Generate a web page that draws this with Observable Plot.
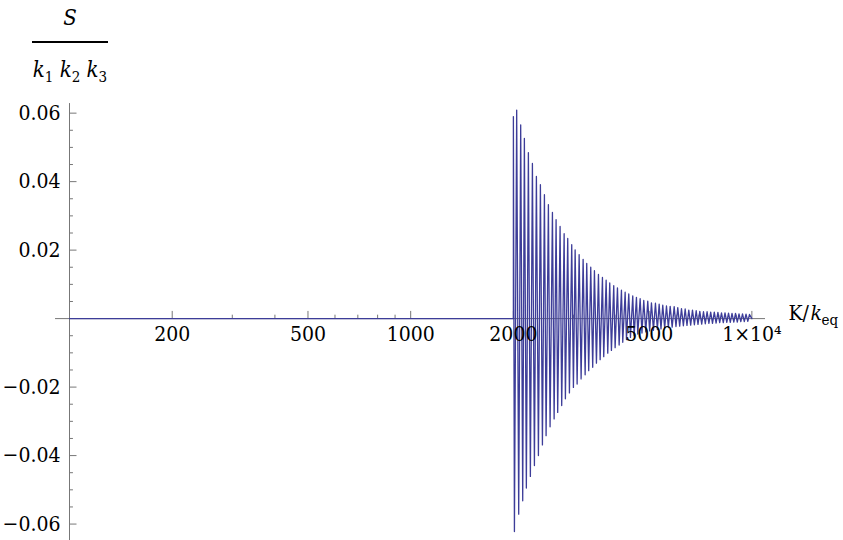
<!DOCTYPE html>
<html><head><meta charset="utf-8">
<script src="https://cdn.jsdelivr.net/npm/d3@7"></script>
<script src="https://cdn.jsdelivr.net/npm/@observablehq/plot@0.6"></script>
<style>
body{margin:0;background:#fff;}
#wrap{position:relative;width:843px;height:540px;overflow:hidden;font-family:'DejaVu Serif Condensed','DejaVu Serif',serif;font-stretch:condensed;color:#000;}
#num{position:absolute;left:32px;top:3px;width:76px;text-align:center;font-size:22px;font-style:italic;line-height:30px;}
#bar{position:absolute;left:32px;top:41px;width:76px;height:1.5px;background:#000;}
#den{position:absolute;left:26px;top:55px;width:88px;text-align:center;font-size:22px;line-height:30px;white-space:nowrap;}
#den sub{font-size:15px;font-style:normal;vertical-align:-5px;line-height:0;}
#chart{position:absolute;left:0;top:80px;}
#chart svg text{font-stretch:condensed;}
</style></head>
<body>
<div id="wrap">
  <div id="num">S</div>
  <div id="bar"></div>
  <div id="den"><i>k</i><sub>1</sub> <i>k</i><sub>2</sub> <i>k</i><sub>3</sub></div>
  <div id="chart"></div>
</div>
<script>
// flat part of the curve (S = 0 before the onset)
const leadK = [100, 2000];
const leadS = [0, 0];
// positive maxima
const peakK = [2000,2045,2101,2154,2213,2274,2336,2400,2466,2533,2603,2668,2741,2817,2886,2965,3034,3117,3202,3281,3371,3456,3551,3648,3740,3832,3937,4037,4147,4252,4357,4476,4589,4705,4821,4953,5078,5217,5349,5481,5620,5762,5920,6065,6219,6376,6533,6698,6868,7037,7215,7392,7574,7761,7952,8147,8342,8542,8746,8955,9169,9388,9613,9843];
const peakS = [0.0590,0.0609,0.0566,0.0526,0.0485,0.0453,0.0415,0.0391,0.0362,0.0333,
  0.0310,0.0289,0.0269,0.0248,0.0234,0.0216,0.0201,0.0187,0.0173,0.0161,
  0.0150,0.0140,0.0129,0.0120,0.0112,0.0104,0.0096,0.0090,0.0083,0.0077,
  0.0072,0.0066,0.0062,0.0058,0.0053,0.0051,0.0046,0.0045,0.0042,0.0039,
  0.0037,0.0036,0.0035,0.0032,0.0029,0.0028,0.0025,0.0025,0.0023,0.0021,
  0.0020,0.0020,0.0019,0.0019,0.0018,0.0017,0.0017,0.0016,0.0015,0.0015,
  0.0014,0.0014,0.0013,0.0012];
// negative minima
const troughK = [2014,2073,2130,2183,2243,2305,2368,2433,2494,2562,2633,2697,2771,2841,2919,2999,3075,3159,3246,3325,3416,3503,3592,3680,3781,3876,3974,4083,4184,4290,4407,4518,4630,4763,4887,5017,5147,5285,5415,5552,5692,5840,5992,6144,6299,6454,6617,6785,6952,7128,7303,7483,7667,7855,8049,8247,8444,8646,8853,9064,9281,9503,9730];
const troughS = [-0.0622,-0.0571,-0.0532,-0.0495,-0.0461,-0.0429,-0.0400,-0.0369,-0.0342,-0.0316,
  -0.0293,-0.0274,-0.0254,-0.0234,-0.0217,-0.0201,-0.0191,-0.0176,-0.0164,-0.0152,
  -0.0142,-0.0130,-0.0120,-0.0111,-0.0101,-0.0093,-0.0085,-0.0077,-0.0069,-0.0061,
  -0.0055,-0.0050,-0.0045,-0.0042,-0.0039,-0.0036,-0.0034,-0.0032,-0.0030,-0.0028,
  -0.0026,-0.0025,-0.0023,-0.0022,-0.0021,-0.0020,-0.0019,-0.0018,-0.0017,-0.0016,
  -0.0015,-0.0014,-0.0014,-0.0013,-0.0012,-0.0012,-0.0011,-0.0011,-0.0010,-0.0010,
  -0.0009,-0.0009,-0.0008];
const tailK = [10000];
const tailS = [0];

// axes
const xMajorTicks = [200, 500, 1000, 2000, 5000, 10000];
const xTickLabels = ["200", "500", "1000", "2000", "5000", "1×10⁴"];
const xMinorTicks = [300, 400, 600, 700, 800, 900, 3000, 4000, 6000, 7000, 8000, 9000];
const yMajorTicks = [-0.06, -0.04, -0.02, 0.02, 0.04, 0.06];
const yTickLabels = ["−0.06", "−0.04", "−0.02", "0.02", "0.04", "0.06"];
const yMinorTicks = [-0.055,-0.05,-0.045,-0.035,-0.03,-0.025,-0.015,-0.01,-0.005,0.005,0.01,0.015,0.025,0.03,0.035,0.045,0.05,0.055];

const rows = [];
leadK.forEach((k, i) => rows.push({K: k, S: leadS[i]}));
peakK.forEach((k, i) => {
  rows.push({K: k, S: peakS[i]});
  if (i < troughK.length) rows.push({K: troughK[i], S: troughS[i]});
});
tailK.forEach((k, i) => rows.push({K: k, S: tailS[i]}));

const axisColor = "#777";
const font = "DejaVu Serif Condensed, DejaVu Serif, serif";

const chart = Plot.plot({
  width: 843, height: 460,
  marginLeft: 69, marginRight: 78, marginTop: 8, marginBottom: 0,
  x: {type: "log", domain: [100, 10964], axis: null},
  y: {domain: [-0.0648, 0.0672], axis: null},
  style: {background: "transparent", overflow: "visible", fontFamily: font},
  marks: [
    Plot.ruleY([0], {x1: 91, x2: 10964, stroke: axisColor, strokeWidth: 1}),
    Plot.ruleX([100], {y1: -0.0648, y2: 0.0628, stroke: axisColor, strokeWidth: 1}),
    Plot.ruleX(xMajorTicks, {x: d => d, y1: 0, y2: 0.0021, stroke: axisColor}),
    Plot.ruleX(xMinorTicks, {x: d => d, y1: 0, y2: 0.0010, stroke: axisColor}),
    Plot.ruleY(yMajorTicks, {y: d => d, x1: 100, x2: 105.2, stroke: axisColor}),
    Plot.ruleY(yMinorTicks, {y: d => d, x1: 100, x2: 102.7, stroke: axisColor}),
    Plot.line(rows, {x: "K", y: "S", stroke: "#3d3d99", strokeWidth: 1.3}),
    Plot.text(xTickLabels, {x: xMajorTicks, y: 0, text: d => d, dy: 16, lineAnchor: "middle",
      fontFamily: font, fontSize: 21, fill: "#000"}),
    Plot.text(yTickLabels, {x: 100, y: yMajorTicks, text: d => d, textAnchor: "end", dx: -9,
      lineAnchor: "middle", fontFamily: font, fontSize: 21, fill: "#000"}),
    Plot.text(["K/"], {x: 10964, y: 0, text: d => d, textAnchor: "start", dx: 23, dy: -5,
      lineAnchor: "middle", fontFamily: font, fontSize: 21, fill: "#000"}),
    Plot.text(["k"], {x: 10964, y: 0, text: d => d, textAnchor: "start", dx: 45, dy: -5,
      lineAnchor: "middle", fontFamily: font, fontSize: 21, fontStyle: "italic", fill: "#000"}),
    Plot.text(["eq"], {x: 10964, y: 0, text: d => d, textAnchor: "start", dx: 56, dy: 2,
      lineAnchor: "middle", fontFamily: font, fontSize: 15, fill: "#000"})
  ]
});
document.getElementById("chart").appendChild(chart);
</script>
</body></html>
